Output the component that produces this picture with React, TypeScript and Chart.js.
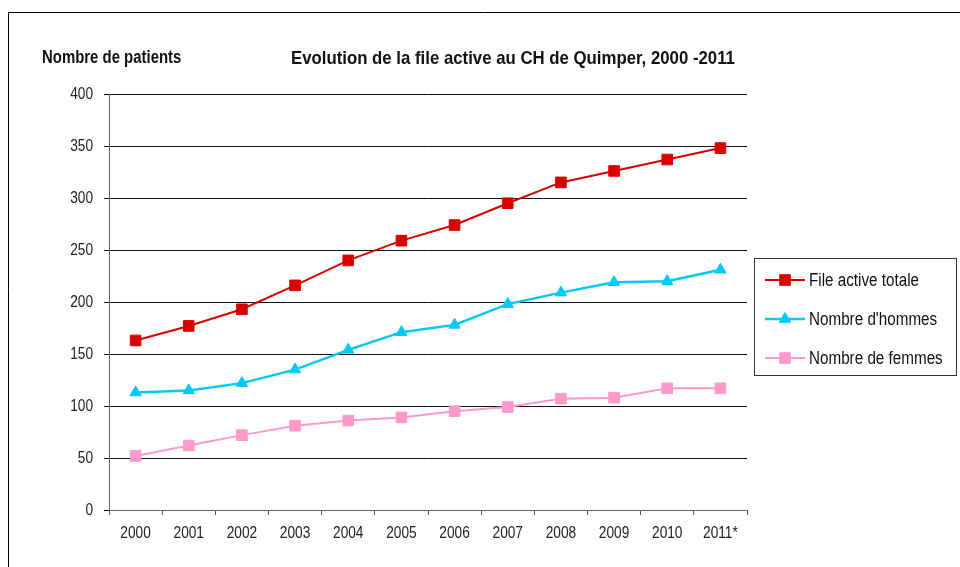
import React, { useEffect, useRef } from "react";
import { Chart, registerables } from "chart.js";

Chart.register(...registerables);

const years = ["2000", "2001", "2002", "2003", "2004", "2005", "2006", "2007", "2008", "2009", "2010", "2011*"];
const totalPatients = [163, 177, 193, 216, 240, 259, 274, 295, 315, 326, 337, 348];
const menPatients = [113, 115, 122, 135, 154, 171, 178, 198, 209, 219, 220, 231];
const womenPatients = [52, 62, 72, 81, 86, 89, 95, 99, 107, 108, 117, 117];
const seriesNames = ["File active totale", "Nombre d'hommes", "Nombre de femmes"];
const yMin = 0;
const yMax = 400;
const yStep = 50;
const titleText = "Evolution de la file active au CH de Quimper, 2000 -2011";
const yAxisTitle = "Nombre de patients";

const FONT = "'Liberation Sans', Arial, sans-serif";

const RED = "#DA0000";
const BLUE = "#00C8F8";
const PINK = "#FF99CC";

function drawMarker(ctx: CanvasRenderingContext2D, style: string, x: number, y: number, r: number, color: string) {
  ctx.save();
  ctx.fillStyle = color;
  ctx.strokeStyle = color;
  ctx.lineWidth = 1;
  ctx.beginPath();
  if (style === "triangle") {
    let rad = 0;
    ctx.moveTo(x + Math.sin(rad) * r, y - Math.cos(rad) * r);
    rad += (2 * Math.PI) / 3;
    ctx.lineTo(x + Math.sin(rad) * r, y - Math.cos(rad) * r);
    rad += (2 * Math.PI) / 3;
    ctx.lineTo(x + Math.sin(rad) * r, y - Math.cos(rad) * r);
    ctx.closePath();
  } else {
    const s = Math.SQRT1_2 * r;
    ctx.rect(x - s, y - s, 2 * s, 2 * s);
  }
  ctx.fill();
  ctx.stroke();
  ctx.restore();
}

function narrowText(
  ctx: CanvasRenderingContext2D,
  text: string,
  x: number,
  y: number,
  font: string,
  sx: number,
  align: CanvasTextAlign,
  baseline: CanvasTextBaseline,
  color: string
) {
  ctx.save();
  ctx.font = font;
  ctx.fillStyle = color;
  ctx.textAlign = align;
  ctx.textBaseline = baseline;
  ctx.translate(x, y);
  ctx.scale(sx, 1);
  ctx.fillText(text, 0, 0);
  ctx.restore();
}

const decorPlugin = {
  id: "decor",
  afterDraw(chart: any) {
    const ctx: CanvasRenderingContext2D = chart.ctx;
    ctx.save();
    // outer frame
    ctx.strokeStyle = "#000";
    ctx.lineWidth = 1;
    ctx.beginPath();
    ctx.moveTo(8.5, 567);
    ctx.lineTo(8.5, 12.5);
    ctx.lineTo(960, 12.5);
    ctx.stroke();
    ctx.restore();

    // titles
    narrowText(ctx, yAxisTitle, 42, 63, `bold 17.5px ${FONT}`, 0.853, "left", "alphabetic", "#111");
    narrowText(ctx, titleText, 291, 64, `bold 18.5px ${FONT}`, 0.907, "left", "alphabetic", "#111");

    // tick labels through the scales
    const xs = chart.scales.x;
    const ys = chart.scales.y;
    ys.ticks.forEach((t: any) => {
      const py = ys.getPixelForValue(t.value);
      narrowText(ctx, String(t.value), 93, py + 1, `16.3px ${FONT}`, 0.84, "right", "middle", "#222");
    });
    chart.data.labels.forEach((lab: string, i: number) => {
      const px = xs.getPixelForValue(i);
      narrowText(ctx, lab, px, 533, `16.5px ${FONT}`, 0.83, "center", "middle", "#222");
    });

    // legend
    ctx.save();
    const bx = 754.5, by = 258.5, bw = 202, bh = 117;
    ctx.strokeStyle = "#333";
    ctx.lineWidth = 1;
    ctx.strokeRect(bx, by, bw, bh);
    ctx.restore();
    const rows = [280, 319, 358];
    chart.data.datasets.forEach((ds: any, i: number) => {
      const y = rows[i];
      ctx.save();
      ctx.strokeStyle = ds.borderColor;
      ctx.lineWidth = ds.borderWidth;
      ctx.beginPath();
      ctx.moveTo(765, y);
      ctx.lineTo(805, y);
      ctx.stroke();
      ctx.restore();
      drawMarker(ctx, ds.pointStyle, 785, y, ds.pointRadius, ds.pointBackgroundColor);
      narrowText(ctx, ds.label, 809, y + 1, `18px ${FONT}`, 0.846, "left", "middle", "#111");
    });
  },
};

export default function App() {
  const canvasRef = useRef<HTMLCanvasElement | null>(null);

  useEffect(() => {
    if (!canvasRef.current) return;
    const chart = new Chart(canvasRef.current, {
      type: "line",
      data: {
        labels: years,
        datasets: [
          {
            label: seriesNames[0],
            data: totalPatients,
            borderColor: RED,
            backgroundColor: RED,
            pointBackgroundColor: RED,
            pointBorderColor: RED,
            borderWidth: 2,
            pointStyle: "rect",
            pointRadius: 7.5,
            pointBorderWidth: 1,
            tension: 0,
          },
          {
            label: seriesNames[1],
            data: menPatients,
            borderColor: BLUE,
            backgroundColor: BLUE,
            pointBackgroundColor: BLUE,
            pointBorderColor: BLUE,
            borderWidth: 2.5,
            pointStyle: "triangle",
            pointRadius: 6.5,
            pointBorderWidth: 1,
            tension: 0,
          },
          {
            label: seriesNames[2],
            data: womenPatients,
            borderColor: PINK,
            backgroundColor: PINK,
            pointBackgroundColor: PINK,
            pointBorderColor: PINK,
            borderWidth: 2,
            pointStyle: "rect",
            pointRadius: 7.5,
            pointBorderWidth: 1,
            tension: 0,
          },
        ] as any,
      },
      options: {
        animation: false,
        responsive: false,
        maintainAspectRatio: false,
        layout: { padding: { left: 49, right: 213, top: 94, bottom: 17 } },
        plugins: {
          legend: { display: false },
          title: { display: false },
          tooltip: { enabled: false },
        },
        scales: {
          x: {
            offset: true,
            grid: {
              offset: true,
              drawOnChartArea: false,
              drawTicks: true,
              tickLength: 5,
              color: "#555",
            },
            border: { display: true, color: "#666", width: 1 },
            ticks: {
              display: false,
              maxRotation: 0,
              autoSkip: false,
            },
            afterFit(scale: any) {
              scale.height = 40;
            },
          },
          y: {
            min: yMin,
            max: yMax,
            grid: {
              color: "#111",
              lineWidth: 1,
              drawTicks: true,
              tickLength: 5,
            },
            border: { display: true, color: "#666", width: 1 },
            ticks: {
              display: false,
              stepSize: yStep,
            },
            afterFit(scale: any) {
              scale.width = 60;
            },
          },
        },
      },
      plugins: [decorPlugin],
    });
    return () => chart.destroy();
  }, []);

  return (
    <div style={{ position: "fixed", left: 0, top: 0, width: 960, height: 567, background: "#fff" }}>
      <canvas ref={canvasRef} width={960} height={567} style={{ width: 960, height: 567, display: "block" }} />
    </div>
  );
}
